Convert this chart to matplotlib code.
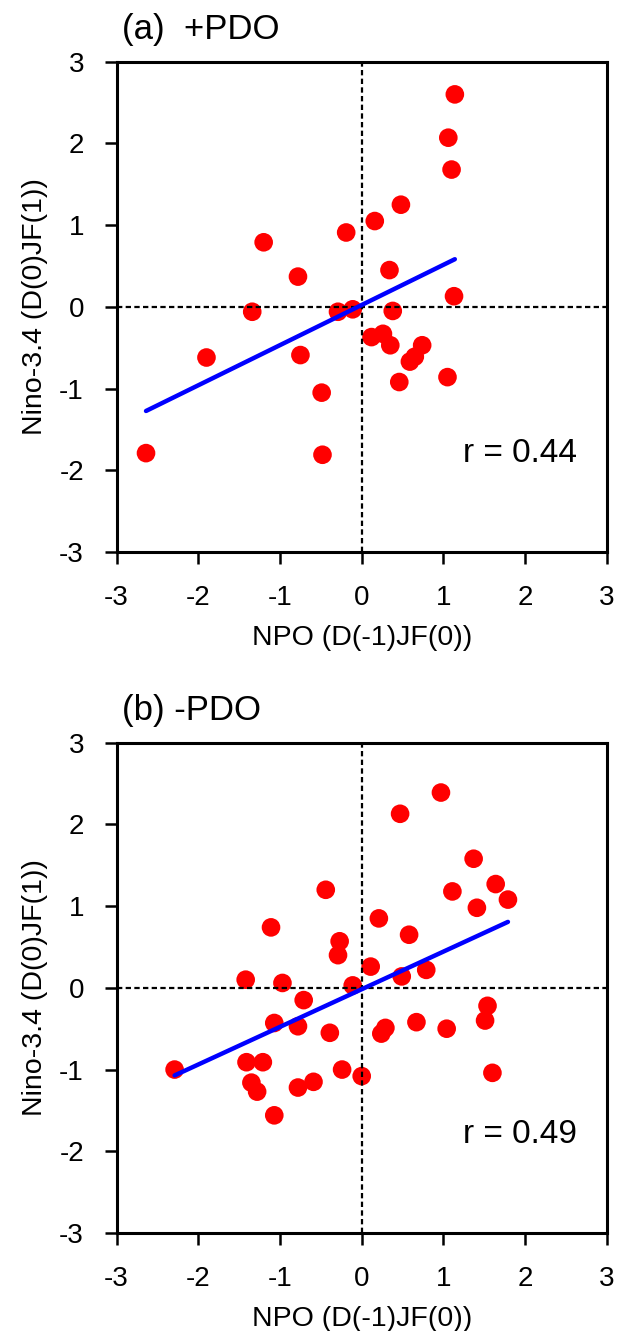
import numpy as np
import matplotlib
matplotlib.use("Agg")
import matplotlib.pyplot as plt

plt.rcParams['font.family'] = ['Liberation Sans', 'DejaVu Sans']

# ---- data: panel (a) +PDO ----
npo_pos = [-2.64, -1.90, -1.34, -1.20, -0.78, -0.75, -0.49, -0.48, -0.29, -0.19,
           -0.11, 0.12, 0.26, 0.16, 0.34, 0.35, 0.38, 0.46, 0.48, 0.59,
           0.65, 0.74, 1.05, 1.06, 1.10, 1.13, 1.14]
nino_pos = [-1.79, -0.62, -0.06, 0.79, 0.37, -0.59, -1.05, -1.81, -0.06, 0.91,
            -0.03, -0.37, -0.33, 1.05, 0.45, -0.47, -0.05, -0.92, 1.25, -0.67,
            -0.61, -0.47, -0.86, 2.07, 1.68, 0.13, 2.60]

# ---- data: panel (b) -PDO ----
npo_neg = [-2.29, -1.42, -1.41, -1.35, -1.28, -1.21, -1.11, -1.07, -1.07, -0.97,
           -0.78, -0.78, -0.71, -0.59, -0.44, -0.39, -0.27, -0.29, -0.24, -0.11,
           0.00, 0.11, 0.21, 0.24, 0.29, 0.47, 0.49, 0.58, 0.67, 0.79,
           0.97, 1.04, 1.11, 1.37, 1.41, 1.51, 1.54, 1.60, 1.64, 1.79]
nino_neg = [-1.00, 0.10, -0.91, -1.16, -1.27, -0.91, 0.74, -0.43, -1.56, 0.06,
            -0.47, -1.22, -0.15, -1.15, 1.20, -0.55, 0.57, 0.40, -1.00, 0.03,
            -1.08, 0.26, 0.85, -0.56, -0.49, 2.13, 0.14, 0.65, -0.42, 0.22,
            2.39, -0.50, 1.18, 1.58, 0.98, -0.40, -0.22, -1.04, 1.27, 1.08]

titles = ["(a)  +PDO", "(b) -PDO"]
r_labels = ["r = 0.44", "r = 0.49"]
ticks = [-3, -2, -1, 0, 1, 2, 3]
xlabel = "NPO (D(-1)JF(0))"
ylabel = "Nino-3.4 (D(0)JF(1))"

fig = plt.figure(figsize=(6.23, 13.31), dpi=100)
W, H = 623, 1331
axes_px = [(116.6, 61.7), (116.6, 742.7)]
aw, ah = 490.2, 490.3

datasets = [(npo_pos, nino_pos), (npo_neg, nino_neg)]
for i, ((x, y), (lx, ty)) in enumerate(zip(datasets, axes_px)):
    ax = fig.add_axes([lx / W, 1 - (ty + ah) / H, aw / W, ah / H])
    x = np.array(x); y = np.array(y)
    ax.scatter(x, y, s=180, color='#ff0000', edgecolors='none', zorder=2)
    ax.axhline(0, color='black', lw=1.6, dashes=(2.4, 1.5), zorder=3)
    ax.axvline(0, color='black', lw=1.6, dashes=(2.4, 1.5), zorder=3)
    k, b = np.polyfit(x, y, 1)
    xs = np.array([x.min(), x.max()])
    ax.plot(xs, k * xs + b, color='#0000ff', lw=3.2, zorder=4, solid_capstyle='round')
    ax.set_xlim(-3, 3)
    ax.set_ylim(-3, 3)
    ax.set_xticks(ticks)
    ax.set_yticks(ticks)
    ax.set_xticklabels([str(t) for t in ticks])
    ax.set_yticklabels([str(t) for t in ticks])
    ax.tick_params(direction='out', length=8.5, width=1.8, labelsize=20, pad=15)
    for s in ax.spines.values():
        s.set_linewidth(2.2)
    ax.set_xlabel(xlabel, fontsize=20.5)
    ax.set_ylabel(ylabel, fontsize=20.5)
    ax.xaxis.set_label_coords(0.5, -0.148)
    ax.yaxis.set_label_coords(-0.14, 0.5)
    ax.text(0.011, 1.047, titles[i], transform=ax.transAxes, fontsize=25,
            ha='left', va='baseline')
    ax.text(1.94, -1.80, r_labels[i], fontsize=24, ha='center', va='center')

fig.savefig("out.png", dpi=100)
